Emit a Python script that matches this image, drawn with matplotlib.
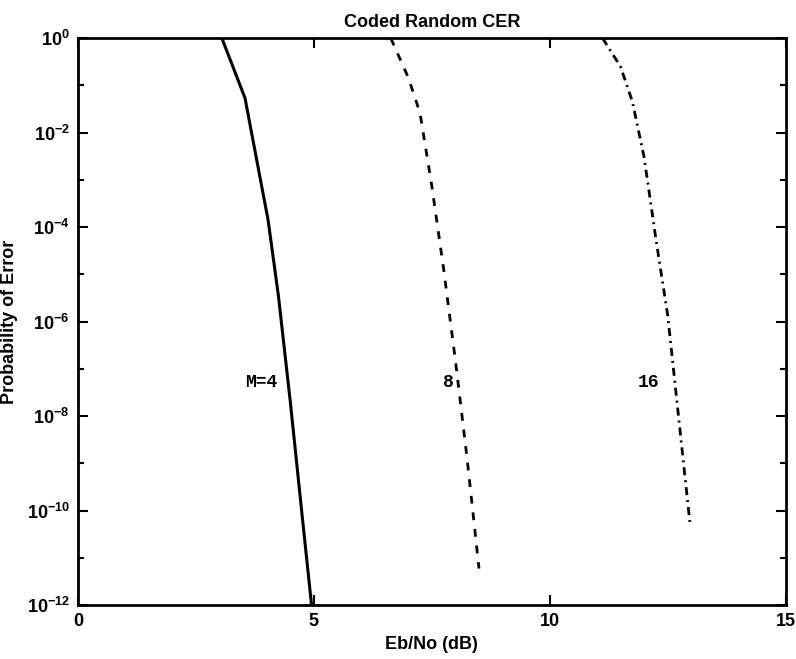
import matplotlib
matplotlib.use('Agg')
import matplotlib.pyplot as plt
import numpy as np

# 판독한 데이터 (Eb/No [dB], 오류 확률)
ebno_m4 = [3.05, 3.54, 3.75, 4.03, 4.25, 4.5, 4.75, 4.95]
per_m4 = [1.0, 5.4e-2, 4.2e-3, 1.4e-4, 3.4e-6, 2e-8, 8e-11, 1e-12]

ebno_m8 = [6.63, 7.0, 7.25, 7.5, 7.75, 8.0, 8.25, 8.5]
per_m8 = [1.0, 1.48e-1, 2.6e-2, 7.4e-4, 1.3e-5, 1.5e-7, 1.2e-9, 5.9e-12]

ebno_m16 = [11.12, 11.5, 11.75, 12.0, 12.25, 12.5, 12.75, 12.97]
per_m16 = [1.0, 2.5e-1, 4.6e-2, 3e-3, 5.6e-5, 1.35e-6, 6.3e-9, 5.6e-11]

curve_labels = ['M=4', '8', '16']
label_x = [3.54, 7.73, 11.86]
label_y = 10 ** -7.3

x_ticks = [0, 5, 10, 15]
y_major = [10.0 ** k for k in range(-12, 1, 2)]
y_minor = [10.0 ** k for k in range(-11, 0, 2)]

plt.rcParams['font.family'] = ['Liberation Sans', 'DejaVu Sans']
plt.rcParams['font.weight'] = 'bold'
plt.rcParams['mathtext.fontset'] = 'custom'
plt.rcParams['mathtext.rm'] = 'Liberation Sans:bold'
plt.rcParams['mathtext.default'] = 'rm'

fig = plt.figure(figsize=(7.96, 6.59), dpi=100)
ax = fig.add_axes([0.098, 0.082, 0.889, 0.860])

ax.plot(ebno_m4, per_m4, color='black', lw=2.2, linestyle='-')
ax.plot(ebno_m8, per_m8, color='black', lw=2.0, linestyle=(0, (2.8, 3.2)))
ax.plot(ebno_m16, per_m16, color='black', lw=2.0, linestyle=(0, (2.9, 1.8, 0.7, 1.8)))

for txt, lx in zip(curve_labels, label_x):
    ax.text(lx, label_y, txt, fontsize=13, fontweight='bold',
            family='Liberation Mono', va='center', ha='left')

ax.set_yscale('log')
ax.set_xlim(0, 15)
ax.set_ylim(1e-12, 1)
ax.set_xticks(x_ticks)
ax.set_xticklabels([str(t) for t in x_ticks])
ax.set_yticks(y_major)
ax.set_yticklabels(['$10^{%d}$' % k for k in range(-12, 1, 2)])
ax.set_yticks(y_minor, minor=True)
ax.yaxis.set_minor_formatter(matplotlib.ticker.NullFormatter())
ax.xaxis.set_minor_locator(matplotlib.ticker.NullLocator())

ax.tick_params(which='both', direction='in', top=True, right=True, width=1.5)
ax.tick_params(which='major', length=7, labelsize=13, pad=6)
ax.tick_params(which='minor', length=4)
for s in ax.spines.values():
    s.set_linewidth(2.0)

ax.set_title('Coded Random CER', fontsize=13, fontweight='bold', pad=8)
ax.set_xlabel('Eb/No (dB)', fontsize=13, fontweight='bold', labelpad=4)
ax.set_ylabel('Probability of Error', fontsize=13, fontweight='bold', labelpad=6)

fig.savefig('out.png', dpi=100)
